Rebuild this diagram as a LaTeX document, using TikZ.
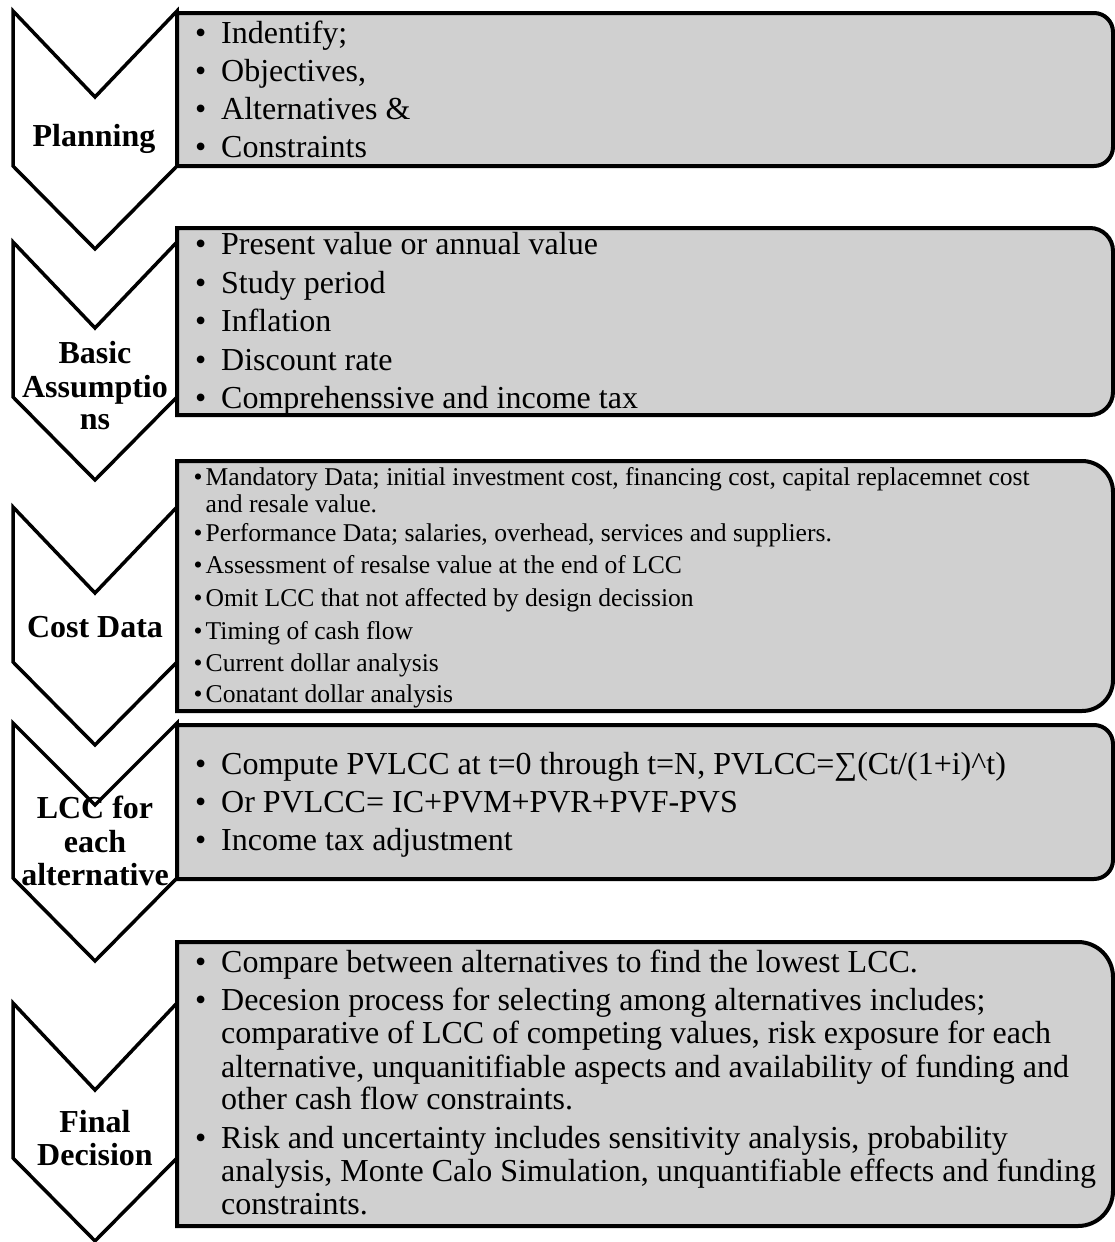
\documentclass[tikz,border=0pt]{standalone}
\usepackage{fontspec}
\setmainfont{Liberation Serif}
\definecolor{panelgray}{RGB}{208,208,208}
% bullets with a fixed gap to the text
\newcommand\bigdot{\makebox[26pt][l]{\textbullet}}
\newcommand\smalldot{\makebox[12pt][l]{\textbullet}}
% chevron: top y, notch depth
\newcommand\chevshape[2]{%
  \draw[chevron] (13,#1) -- (95,#1+#2) -- (177,#1) -- (177,#1+155)
    -- (95,#1+238) -- (13,#1+155) -- cycle;}
% grey panel with rounded right corners: top y, bottom y, radius
\newcommand\panelshape[3]{%
  \draw[panel] (177,#1) -- ({1113-#3},#1) arc[start angle=90,end angle=0,radius=#3pt]
    -- (1113,{#2-#3}) arc[start angle=0,end angle=-90,radius=#3pt] -- (177,#2) -- cycle;}
\begin{document}
\begin{tikzpicture}[x=1pt,y=-1pt,
  chevron/.style={draw=black,line width=3.5pt,fill=white,line join=miter},
  panel/.style={draw=black,line width=4pt,fill=panelgray,line join=miter},
  big/.style={anchor=base west,inner sep=0pt,font=\fontsize{32}{38}\selectfont},
  small/.style={anchor=base west,inner sep=0pt,font=\fontsize{25.6}{28}\selectfont},
  lab/.style={anchor=base,inner sep=0pt,font=\fontsize{32}{33}\selectfont\bfseries}]
\useasboundingbox (0,0) rectangle (1115,1242);

% chevrons of the five stages
\chevshape{11}{86}
\chevshape{242}{86}
\chevshape{507}{86}
\chevshape{723}{82}
\chevshape{1003}{87}

% detail panels
\panelshape{13}{166}{19}
\panelshape{228}{415}{23}
\panelshape{461}{711}{31}
\panelshape{725}{879}{19}
\panelshape{942}{1226}{35}

% stage labels
\node[lab] (lplan) at (94,146) {Planning};
\node[lab] (lbasa) at (95,363) {Basic};
\node[lab] (lbasb) at (95,397) {Assumptio};
\node[lab] (lbasc) at (95,429) {ns};
\node[lab] (lcost) at (95,637) {Cost Data};
\node[lab] (llcca) at (95,818) {LCC for};
\node[lab] (llccb) at (95,852) {each};
\node[lab] (llccc) at (95,885) {alternative};
\node[lab] (lfina) at (95,1132) {Final};
\node[lab] (lfinb) at (95,1165) {Decision};

% planning
\node[big] (pa) at (195,43) {\bigdot Indentify;};
\node[big] (pb) at (195,81) {\bigdot Objectives,};
\node[big] (pc) at (195,119) {\bigdot Alternatives \&};
\node[big] (pd) at (195,157) {\bigdot Constraints};

% basic assumptions
\node[big] (aa) at (195,254) {\bigdot Present value or annual value};
\node[big] (ab) at (195,293) {\bigdot Study period};
\node[big] (ac) at (195,331) {\bigdot Inflation};
\node[big] (ad) at (195,370) {\bigdot Discount rate};
\node[big] (ae) at (195,408) {\bigdot Comprehenssive and income tax};

% cost data
\node[small] (ca) at (193.5,485) {\smalldot Mandatory Data; initial investment cost, financing cost, capital replacemnet cost};
\node[small] (ca2) at (205.5,512) {and resale value.};
\node[small] (cb) at (193.5,541) {\smalldot Performance Data; salaries, overhead, services and suppliers.};
\node[small] (cc) at (193.5,573) {\smalldot Assessment of resalse value at the end of LCC};
\node[small] (cd) at (193.5,606) {\smalldot Omit LCC that not affected by design decission};
\node[small] (ce) at (193.5,639) {\smalldot Timing of cash flow};
\node[small] (cf) at (193.5,671) {\smalldot Current dollar analysis};
\node[small] (cg) at (193.5,702) {\smalldot Conatant dollar analysis};

% LCC for each alternative
\node[big] (la) at (195,774) {\bigdot Compute PVLCC at t=0 through t=N, PVLCC=∑(Ct/(1+i)\textasciicircum t)};
\node[big] (lb) at (195,812) {\bigdot Or PVLCC= IC+PVM+PVR+PVF-PVS};
\node[big] (lc) at (195,850) {\bigdot Income tax adjustment};

% final decision
\node[big] (fa) at (195,972) {\bigdot Compare between alternatives to find the lowest LCC.};
\node[big] (fb) at (195,1010) {\bigdot Decesion process for selecting among alternatives includes;};
\node[big] (fb2) at (221,1043) {comparative of LCC of competing values, risk exposure for each};
\node[big] (fb3) at (221,1077) {alternative, unquanitifiable aspects and availability of funding and};
\node[big] (fb4) at (221,1109) {other cash flow constraints.};
\node[big] (fc) at (195,1148) {\bigdot Risk and uncertainty includes sensitivity analysis, probability};
\node[big] (fc2) at (221,1181) {analysis, Monte Calo Simulation, unquantifiable effects and funding};
\node[big] (fc3) at (221,1214) {constraints.};
\end{tikzpicture}
\end{document}
